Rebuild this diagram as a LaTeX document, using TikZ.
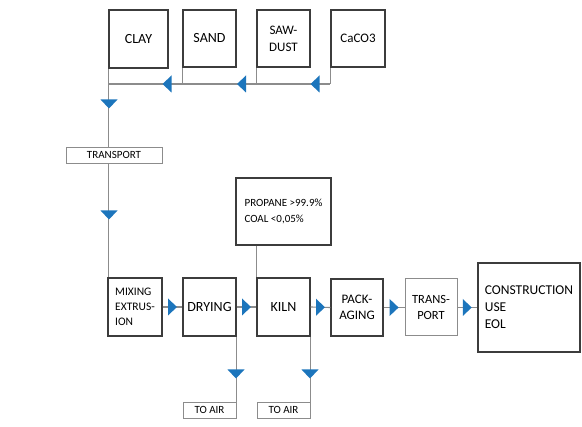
\documentclass[tikz,border=0pt]{standalone}
\usepackage{fontspec}
\setmainfont{Carlito}
\usetikzlibrary{calc}
\definecolor{boxgray}{HTML}{3C3C3C}
\definecolor{linegray}{HTML}{8C8C8C}
\definecolor{arrowblue}{HTML}{1C75BC}
\begin{document}
\begin{tikzpicture}[x=1pt,y=-1pt,
  box/.style={draw=boxgray, line width=1.4pt, inner sep=0pt, fill=white, align=center, font=\fontsize{14}{17}\selectfont},
  smallbox/.style={draw=linegray, line width=0.9pt, inner sep=0pt, fill=white, font=\fontsize{11}{13}\selectfont},
  conn/.style={draw=linegray, line width=1.1pt},
  triR/.pic={\fill[arrowblue] (-4.5,-8.5) -- (4.5,0) -- (-4.5,8.5) -- cycle;},
  triL/.pic={\fill[arrowblue] (4.5,-8.5) -- (-4.5,0) -- (4.5,8.5) -- cycle;},
  triD/.pic={\fill[arrowblue] (-8.5,-4.5) -- (0,4.5) -- (8.5,-4.5) -- cycle;},
]
\useasboundingbox (0,0) rectangle (582,427);
\fill[white] (0,0) rectangle (582,427);

% raw materials
\node[box, minimum width=59pt, minimum height=58pt] (clay) at (138.5,39) {CLAY};
\node[box, minimum width=53pt, minimum height=57pt] (sand) at (209.5,38.5) {SAND};
\node[box, minimum width=53pt, minimum height=57pt, font=\fontsize{13}{17}\selectfont] (sawdust) at (283.5,38.5) {SAW-\\DUST};
\node[box, minimum width=54pt, minimum height=57pt, font=\fontsize{13}{17}\selectfont] (caco3) at (358,38.5) {CaCO3};

% process
\node[box, minimum width=54pt, minimum height=58pt, align=left, font=\fontsize{11.5}{15}\selectfont] (mixing) at (135,307) {MIXING\\EXTRUS-\\ION};
\node[box, minimum width=53pt, minimum height=58pt] (drying) at (209.5,307) {DRYING};
\node[box, minimum width=53pt, minimum height=58pt] (kiln) at (283.5,307) {KILN};
\node[box, minimum width=95pt, minimum height=67pt, align=left, font=\fontsize{11}{16}\selectfont] (propane) at (283.5,211.5) {PROPANE >99.9\%\\COAL <0,05\%};
\node[box, minimum width=52pt, minimum height=57pt, font=\fontsize{13}{16.5}\selectfont] (pack) at (357,307.5) {PACK-\\AGING};
\node[box, draw=linegray, line width=1pt, minimum width=52pt, minimum height=57pt, font=\fontsize{12.5}{16.5}\selectfont] (trans) at (431,307.5) {TRANS-\\PORT};
\node[box, line width=2pt, minimum width=102pt, minimum height=89pt, align=left, font=\fontsize{13.5}{17}\selectfont] (constr) at (529,307.5) {CONSTRUCTION\\USE\\EOL};

% connectors
\coordinate (bus) at (0,84);
\draw[conn] (clay.south west |- bus) -- (caco3.south west |- bus);
\draw[conn] (sand.south west) -- (sand.south west |- bus);
\draw[conn] (sawdust.south west) -- (sawdust.south west |- bus);
\draw[conn] (caco3.south west) -- (caco3.south west |- bus);
\draw[conn] (clay.south west) -- (clay.south west |- mixing.north);
\draw[conn] (mixing.east) -- (drying.west);
\draw[conn] (drying.east) -- (kiln.west);
\draw[conn] (kiln.east) -- (pack.west);
\draw[conn] (pack.east) -- (trans.west);
\draw[conn] (trans.east) -- (constr.west);
\draw[conn] (propane.south -| kiln.north west) -- (kiln.north west);

\node[smallbox, minimum width=96pt, minimum height=16pt] (transport) at (114,155) {TRANSPORT};
\node[smallbox, minimum width=53pt, minimum height=16pt] (toair1) at (209.5,410) {TO AIR};
\node[smallbox, minimum width=53pt, minimum height=16pt] (toair2) at (283.5,410) {TO AIR};
\draw[conn] (drying.south east) -- (drying.south east |- toair1.north);
\draw[conn] (kiln.south east) -- (kiln.south east |- toair2.north);

% arrowheads
\pic at (167,84) {triL};
\pic at (241.5,84) {triL};
\pic at (315,84) {triL};
\pic at (109,104) {triD};
\pic at (109,215) {triD};
\pic at (236,374) {triD};
\pic at (310,374) {triD};
\pic at ($(mixing.east)!0.5!(drying.west)$) {triR};
\pic at ($(drying.east)!0.5!(kiln.west)$) {triR};
\pic at ($(kiln.east)!0.5!(pack.west)$) {triR};
\pic at ($(pack.east)!0.5!(trans.west)$) {triR};
\pic at ($(trans.east)!0.5!(constr.west)$) {triR};
\end{tikzpicture}
\end{document}
